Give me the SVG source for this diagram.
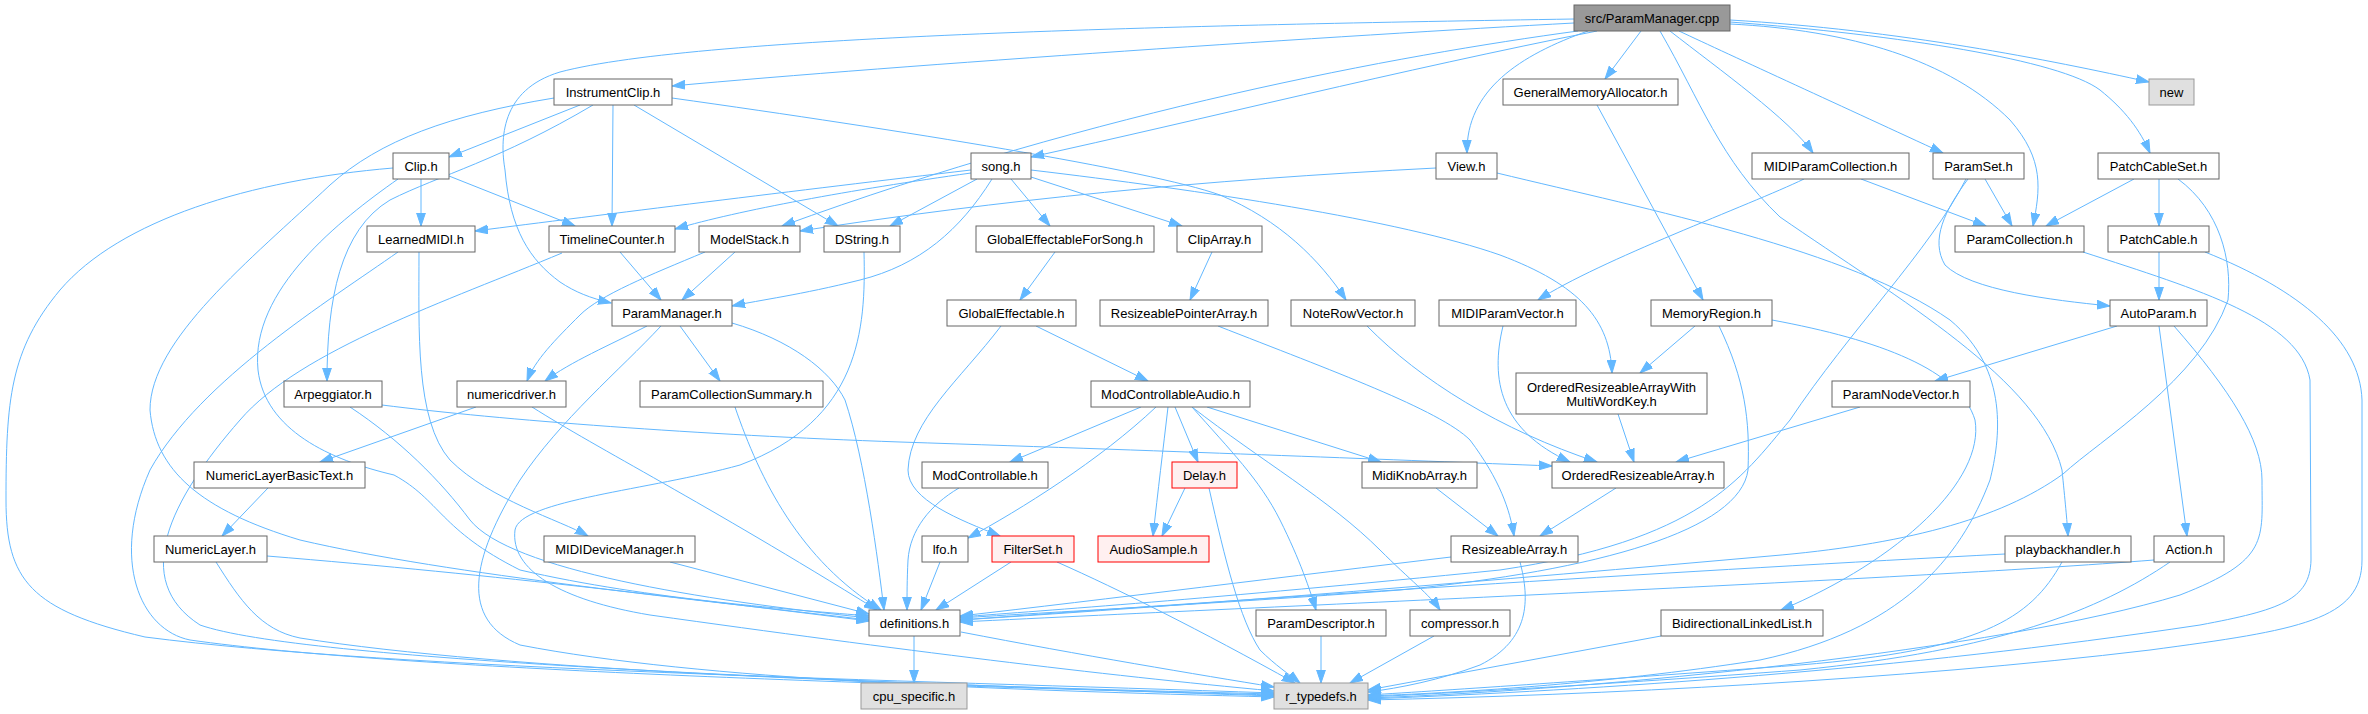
<svg xmlns="http://www.w3.org/2000/svg" width="2368" height="714" viewBox="0 0 2368 714">
<defs>
<style>
.node rect{fill:#ffffff;stroke:#666666;stroke-width:1}
.node.root rect{fill:#999999;stroke:#666666}
.node.gray rect{fill:#e0e0e0;stroke:#999999}
.node.red rect{fill:#fff0f0;stroke:#ff0000}
.node text{font-family:"Liberation Sans",Arial,sans-serif;font-size:13px;fill:#000000;text-anchor:middle}
#edges path{fill:none;stroke:#63b8ff;stroke-width:1;marker-end:url(#arr)}
</style>
<marker id="arr" viewBox="0 0 14 10" refX="13" refY="5" markerWidth="14" markerHeight="10" markerUnits="userSpaceOnUse" orient="auto">
<path d="M0,0.6 L13,5 L0,9.4 z" fill="#63b8ff" stroke="#63b8ff" stroke-width="1"/>
</marker>
</defs>
<rect width="2368" height="714" fill="#ffffff"/>
<g id="edges">
<!-- root -->
<path d="M1574,23 C1350,35 900,65 672,86"/>
<path d="M1574,19 C1200,25 700,35 560,72 C500,90 500,140 505,170 C510,230 530,260 560,282 C575,292 590,298 611,303"/>
<path d="M1578,31 C1400,55 1100,110 782,226"/>
<path d="M1597,31 C1400,70 1200,120 1031,157"/>
<path d="M1588,31 C1520,55 1466,90 1467,153"/>
<path d="M1641,31 L1605,79"/>
<path d="M1670,31 C1720,70 1790,120 1813,153"/>
<path d="M1679,31 C1730,55 1850,110 1943,153"/>
<path d="M1730,24 C1850,30 1950,60 2010,120 C2045,160 2040,190 2033,226"/>
<path d="M1730,20 C1900,30 2050,60 2149,82"/>
<path d="M1730,22 C1900,35 2060,60 2100,90 C2125,110 2140,130 2150,153"/>
<path d="M1660,31 C1700,100 1720,160 1780,217 C1900,300 2040,380 2062,470 C2065,500 2067,520 2068,536"/>
<!-- InstrumentClip -->
<path d="M580,105 L449,157"/>
<path d="M613,105 L612,226"/>
<path d="M634,105 L838,226"/>
<path d="M672,98 C900,130 1150,170 1220,195 C1280,220 1320,260 1346,300"/>
<path d="M593,105 C500,160 440,175 390,200 C340,230 327,300 327,381"/>
<path d="M554,98 C450,115 380,140 330,185 C250,260 150,340 150,410 C155,470 200,510 300,540 C450,575 700,600 869,620"/>
<!-- Clip -->
<path d="M421,179 L421,226"/>
<path d="M449,176 L575,226"/>
<path d="M393,168 C250,180 120,220 60,290 C10,350 6,400 6,500 C6,580 30,610 145,637 C400,670 900,680 1274,693"/>
<path d="M398,179 C340,220 250,290 258,370 C265,430 330,460 394,475 C440,500 440,530 520,570 C650,600 800,610 869,616"/>
<!-- LearnedMIDI -->
<path d="M419,252 C419,330 415,420 450,460 C490,500 560,520 588,536"/>
<path d="M398,252 C330,300 200,380 150,470 C110,560 140,630 190,640 C400,670 900,685 1274,695"/>
<!-- TimelineCounter -->
<path d="M620,252 L661,300"/>
<path d="M562,253 C450,300 300,350 240,420 C170,500 130,580 200,625 C300,660 800,680 1274,696"/>
<!-- ModelStack -->
<path d="M735,252 L682,300"/>
<path d="M705,252 C650,275 600,295 580,315 C555,340 535,360 527,381"/>
<!-- DString -->
<path d="M864,252 C866,330 860,420 740,465 C650,490 520,500 515,530 C510,570 560,600 650,615 C900,650 1100,675 1274,691"/>
<!-- song -->
<path d="M971,170 C800,190 600,215 475,231"/>
<path d="M971,173 C850,190 740,210 675,229"/>
<path d="M977,179 L890,226"/>
<path d="M992,179 C960,230 920,265 860,280 C800,295 760,300 732,306"/>
<path d="M1011,179 L1050,226"/>
<path d="M1031,177 L1182,226"/>
<path d="M1031,170 C1200,190 1400,220 1500,255 C1580,285 1610,320 1612,373"/>
<!-- View -->
<path d="M1436,168 C1200,180 1000,200 800,231"/>
<path d="M1497,173 C1650,210 1850,250 1950,320 C2010,370 2000,440 1990,480 C1960,560 1900,630 1760,660 C1600,685 1450,693 1368,696"/>
<!-- GeneralMemoryAllocator -->
<path d="M1597,105 L1703,300"/>
<!-- MIDIParamCollection -->
<path d="M1861,179 L1986,226"/>
<path d="M1804,179 C1750,205 1600,260 1538,300"/>
<!-- ParamSet -->
<path d="M1985,179 L2012,226"/>
<path d="M1968,179 C1945,210 1930,240 1945,265 C1970,290 2050,300 2110,306"/>
<path d="M1966,179 C1930,250 1850,330 1790,420 C1740,480 1700,540 1500,570 C1200,600 1050,610 960,617"/>
<!-- PatchCableSet -->
<path d="M2134,179 L2046,226"/>
<path d="M2159,179 L2159,226"/>
<path d="M2178,179 C2220,210 2232,260 2228,300 C2200,380 2100,440 2063,474 C2000,520 1900,545 1770,556 C1500,580 1200,605 960,620"/>
<!-- ParamCollection / PatchCable -->
<path d="M2083,252 C2200,290 2300,320 2310,380 L2311,560 C2310,600 2280,610 2200,625 C1900,670 1600,690 1368,699"/>
<path d="M2159,252 L2159,300"/>
<path d="M2205,252 C2300,290 2360,340 2362,400 L2362,560 C2362,620 2300,630 2150,650 C1900,680 1600,695 1368,700"/>
<!-- ParamManager -->
<path d="M647,326 C610,345 570,362 545,381"/>
<path d="M680,326 L720,381"/>
<path d="M732,323 C790,340 830,370 845,400 C865,460 878,560 884,610"/>
<path d="M661,326 C620,370 560,420 520,480 C470,560 460,620 520,645 C700,680 1000,690 1274,697"/>
<!-- GlobalEffectableForSong / GlobalEffectable / ClipArray -->
<path d="M1055,252 L1020,300"/>
<path d="M1036,326 L1148,381"/>
<path d="M1001,326 C960,380 910,420 908,470 C908,500 960,520 1000,536"/>
<path d="M1212,252 L1190,300"/>
<path d="M1218,326 C1330,370 1440,410 1470,440 C1500,480 1510,510 1514,536"/>
<!-- vectors -->
<path d="M1367,326 C1420,380 1500,430 1597,462"/>
<path d="M1503,326 C1490,380 1500,430 1570,462"/>
<path d="M1695,326 L1640,373"/>
<path d="M1719,326 C1745,380 1750,420 1748,470 C1740,530 1600,570 1400,590 C1200,605 1050,612 960,618"/>
<path d="M1772,320 C1880,340 1960,370 1975,420 C1985,480 1900,560 1781,610"/>
<path d="M1618,414 L1634,462"/>
<path d="M1860,407 L1676,462"/>
<!-- AutoParam -->
<path d="M2117,326 L1935,381"/>
<path d="M2159,326 L2187,536"/>
<path d="M2174,326 C2230,390 2262,440 2262,480 C2262,540 2270,560 2180,595 C2000,650 1600,690 1368,698"/>
<!-- Arpeggiator / numericdriver -->
<path d="M382,405 C500,420 700,435 900,442 C1200,452 1400,460 1552,466"/>
<path d="M350,407 C400,440 440,480 470,520 C510,570 700,600 869,618"/>
<path d="M476,407 L320,462"/>
<path d="M532,407 C600,450 700,500 877,610"/>
<path d="M735,407 C760,480 800,560 881,610"/>
<!-- ModControllableAudio -->
<path d="M1141,407 L1010,462"/>
<path d="M1156,407 C1100,460 1020,510 968,538"/>
<path d="M1168,407 C1163,450 1158,490 1153,536"/>
<path d="M1175,407 L1198,462"/>
<path d="M1207,407 L1381,462"/>
<path d="M1192,407 C1230,450 1260,480 1280,520 C1300,560 1310,590 1316,610"/>
<path d="M1192,407 C1260,460 1330,500 1380,550 C1410,580 1430,595 1440,610"/>
<!-- row6 -->
<path d="M268,488 L222,536"/>
<path d="M959,488 C930,505 910,530 908,560 C907,580 907,595 907,610"/>
<path d="M1185,488 L1162,536"/>
<path d="M1209,488 C1225,560 1240,620 1260,650 C1275,665 1290,675 1300,683"/>
<path d="M1436,488 L1498,536"/>
<path d="M1616,488 L1540,536"/>
<!-- row7 -->
<path d="M267,556 C500,575 700,600 869,621"/>
<path d="M216,562 C240,600 260,630 300,638 C500,670 900,685 1274,694"/>
<path d="M670,562 L869,614"/>
<path d="M940,562 L921,610"/>
<path d="M1011,562 L936,610"/>
<path d="M1057,562 C1120,590 1200,630 1295,683"/>
<path d="M1451,557 C1300,575 1100,600 960,616"/>
<path d="M1520,562 C1530,600 1530,640 1480,665 C1440,680 1400,688 1368,692"/>
<path d="M2005,554 C1700,570 1300,595 960,620"/>
<path d="M2062,562 C2030,620 1980,650 1800,665 C1600,680 1450,690 1368,695"/>
<path d="M2154,560 C1900,580 1300,605 960,622"/>
<path d="M2170,562 C2100,610 2000,650 1800,670 C1600,685 1450,693 1368,697"/>
<!-- row8 -->
<path d="M914,636 L914,683"/>
<path d="M961,632 C1080,655 1200,675 1274,687"/>
<path d="M1321,636 L1321,683"/>
<path d="M1434,636 L1350,683"/>
<path d="M1661,636 L1368,690"/>
</g>
<g id="n_root" class="node root"><rect x="1574" y="5" width="156" height="26"/><text x="1652" y="22.5">src/ParamManager.cpp</text></g>
<g id="n_InstrumentClip" class="node"><rect x="554" y="79" width="118" height="26"/><text x="613" y="96.5">InstrumentClip.h</text></g>
<g id="n_GeneralMemoryAllocator" class="node"><rect x="1503" y="79" width="175" height="26"/><text x="1590.5" y="96.5">GeneralMemoryAllocator.h</text></g>
<g id="n_new" class="node gray"><rect x="2149" y="79" width="45" height="26"/><text x="2171.5" y="96.5">new</text></g>
<g id="n_Clip" class="node"><rect x="393" y="153" width="56" height="26"/><text x="421" y="170.5">Clip.h</text></g>
<g id="n_song" class="node"><rect x="971" y="153" width="60" height="26"/><text x="1001" y="170.5">song.h</text></g>
<g id="n_View" class="node"><rect x="1436" y="153" width="61" height="26"/><text x="1466.5" y="170.5">View.h</text></g>
<g id="n_MIDIParamCollection" class="node"><rect x="1752" y="153" width="157" height="26"/><text x="1830.5" y="170.5">MIDIParamCollection.h</text></g>
<g id="n_ParamSet" class="node"><rect x="1933" y="153" width="91" height="26"/><text x="1978.5" y="170.5">ParamSet.h</text></g>
<g id="n_PatchCableSet" class="node"><rect x="2098" y="153" width="121" height="26"/><text x="2158.5" y="170.5">PatchCableSet.h</text></g>
<g id="n_LearnedMIDI" class="node"><rect x="367" y="226" width="108" height="26"/><text x="421" y="243.5">LearnedMIDI.h</text></g>
<g id="n_TimelineCounter" class="node"><rect x="549" y="226" width="126" height="26"/><text x="612" y="243.5">TimelineCounter.h</text></g>
<g id="n_ModelStack" class="node"><rect x="699" y="226" width="101" height="26"/><text x="749.5" y="243.5">ModelStack.h</text></g>
<g id="n_DString" class="node"><rect x="824" y="226" width="76" height="26"/><text x="862" y="243.5">DString.h</text></g>
<g id="n_GlobalEffectableForSong" class="node"><rect x="976" y="226" width="178" height="26"/><text x="1065" y="243.5">GlobalEffectableForSong.h</text></g>
<g id="n_ClipArray" class="node"><rect x="1177" y="226" width="85" height="26"/><text x="1219.5" y="243.5">ClipArray.h</text></g>
<g id="n_ParamCollection" class="node"><rect x="1955" y="226" width="129" height="26"/><text x="2019.5" y="243.5">ParamCollection.h</text></g>
<g id="n_PatchCable" class="node"><rect x="2108" y="226" width="101" height="26"/><text x="2158.5" y="243.5">PatchCable.h</text></g>
<g id="n_ParamManager" class="node"><rect x="612" y="300" width="120" height="26"/><text x="672" y="317.5">ParamManager.h</text></g>
<g id="n_GlobalEffectable" class="node"><rect x="947" y="300" width="129" height="26"/><text x="1011.5" y="317.5">GlobalEffectable.h</text></g>
<g id="n_ResizeablePointerArray" class="node"><rect x="1100" y="300" width="168" height="26"/><text x="1184" y="317.5">ResizeablePointerArray.h</text></g>
<g id="n_NoteRowVector" class="node"><rect x="1291" y="300" width="124" height="26"/><text x="1353" y="317.5">NoteRowVector.h</text></g>
<g id="n_MIDIParamVector" class="node"><rect x="1439" y="300" width="137" height="26"/><text x="1507.5" y="317.5">MIDIParamVector.h</text></g>
<g id="n_MemoryRegion" class="node"><rect x="1651" y="300" width="121" height="26"/><text x="1711.5" y="317.5">MemoryRegion.h</text></g>
<g id="n_AutoParam" class="node"><rect x="2110" y="300" width="97" height="26"/><text x="2158.5" y="317.5">AutoParam.h</text></g>
<g id="n_Arpeggiator" class="node"><rect x="284" y="381" width="98" height="26"/><text x="333" y="398.5">Arpeggiator.h</text></g>
<g id="n_numericdriver" class="node"><rect x="457" y="381" width="109" height="26"/><text x="511.5" y="398.5">numericdriver.h</text></g>
<g id="n_ParamCollectionSummary" class="node"><rect x="640" y="381" width="183" height="26"/><text x="731.5" y="398.5">ParamCollectionSummary.h</text></g>
<g id="n_ModControllableAudio" class="node"><rect x="1091" y="381" width="159" height="26"/><text x="1170.5" y="398.5">ModControllableAudio.h</text></g>
<g id="n_ORAWMWK" class="node"><rect x="1516" y="373" width="191" height="41"/><text x="1611.5" y="392">OrderedResizeableArrayWith</text><text x="1611.5" y="406">MultiWordKey.h</text></g>
<g id="n_ParamNodeVector" class="node"><rect x="1832" y="381" width="138" height="26"/><text x="1901" y="398.5">ParamNodeVector.h</text></g>
<g id="n_NumericLayerBasicText" class="node"><rect x="194" y="462" width="171" height="26"/><text x="279.5" y="479.5">NumericLayerBasicText.h</text></g>
<g id="n_ModControllable" class="node"><rect x="922" y="462" width="126" height="26"/><text x="985" y="479.5">ModControllable.h</text></g>
<g id="n_Delay" class="node red"><rect x="1172" y="462" width="65" height="26"/><text x="1204.5" y="479.5">Delay.h</text></g>
<g id="n_MidiKnobArray" class="node"><rect x="1362" y="462" width="115" height="26"/><text x="1419.5" y="479.5">MidiKnobArray.h</text></g>
<g id="n_OrderedResizeableArray" class="node"><rect x="1552" y="462" width="172" height="26"/><text x="1638" y="479.5">OrderedResizeableArray.h</text></g>
<g id="n_NumericLayer" class="node"><rect x="154" y="536" width="113" height="26"/><text x="210.5" y="553.5">NumericLayer.h</text></g>
<g id="n_MIDIDeviceManager" class="node"><rect x="544" y="536" width="151" height="26"/><text x="619.5" y="553.5">MIDIDeviceManager.h</text></g>
<g id="n_lfo" class="node"><rect x="922" y="536" width="46" height="26"/><text x="945" y="553.5">lfo.h</text></g>
<g id="n_FilterSet" class="node red"><rect x="992" y="536" width="82" height="26"/><text x="1033" y="553.5">FilterSet.h</text></g>
<g id="n_AudioSample" class="node red"><rect x="1098" y="536" width="111" height="26"/><text x="1153.5" y="553.5">AudioSample.h</text></g>
<g id="n_ResizeableArray" class="node"><rect x="1451" y="536" width="127" height="26"/><text x="1514.5" y="553.5">ResizeableArray.h</text></g>
<g id="n_playbackhandler" class="node"><rect x="2005" y="536" width="126" height="26"/><text x="2068" y="553.5">playbackhandler.h</text></g>
<g id="n_Action" class="node"><rect x="2154" y="536" width="70" height="26"/><text x="2189" y="553.5">Action.h</text></g>
<g id="n_definitions" class="node"><rect x="869" y="610" width="91" height="26"/><text x="914.5" y="627.5">definitions.h</text></g>
<g id="n_ParamDescriptor" class="node"><rect x="1256" y="610" width="130" height="26"/><text x="1321" y="627.5">ParamDescriptor.h</text></g>
<g id="n_compressor" class="node"><rect x="1410" y="610" width="100" height="26"/><text x="1460" y="627.5">compressor.h</text></g>
<g id="n_BidirectionalLinkedList" class="node"><rect x="1661" y="610" width="162" height="26"/><text x="1742" y="627.5">BidirectionalLinkedList.h</text></g>
<g id="n_cpu_specific" class="node gray"><rect x="861" y="683" width="106" height="26"/><text x="914" y="700.5">cpu_specific.h</text></g>
<g id="n_r_typedefs" class="node gray"><rect x="1274" y="683" width="94" height="26"/><text x="1321" y="700.5">r_typedefs.h</text></g>
</svg>
